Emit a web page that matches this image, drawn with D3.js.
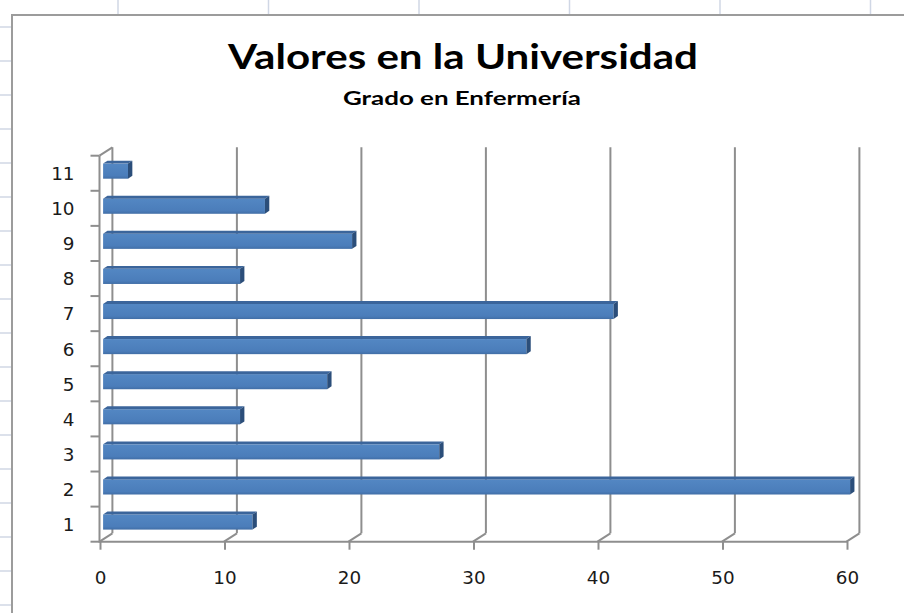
<!DOCTYPE html>
<html>
<head>
<meta charset="utf-8">
<script src="https://cdn.jsdelivr.net/npm/d3@7"></script>
<style>
  body { margin: 0; background: #ffffff; overflow: hidden; }
</style>
</head>
<body>
<div id="chart"></div>
<script>
// DATA
var categories = ["1", "2", "3", "4", "5", "6", "7", "8", "9", "10", "11"];
var values = [12, 60, 27, 11, 18, 34, 41, 11, 20, 13, 2];
var xTicks = [0, 10, 20, 30, 40, 50, 60];
var chartTitle = "Valores en la Universidad";
var chartSubtitle = "Grado en Enfermería";

// LAYOUT
var width = 904;
var height = 613;
var depth = { x: 12.4, y: -8.4 }; // oblique offset of the back wall
var barDepth = [0.25, 0.6]; // bars sit between these depth fractions

var svg = d3
  .select("#chart")
  .append("svg")
  .attr("width", width)
  .attr("height", height);

var x = d3.scaleLinear().domain([0, 60]).range([100, 847]);
var y = d3
  .scaleBand()
  .domain(categories.slice().reverse())
  .range([155.7, 541.7])
  .paddingInner(0.57)
  .paddingOuter(0.285);
var step = y.step();
var yTop = y.range()[0];
var yBottom = y.range()[1];

// stretch text horizontally to a wanted width (the picture is a bit wide)
function stretchTo(sel, w) {
  sel.attr("textLength", w).attr("lengthAdjust", "spacingAndGlyphs");
}
function stretchBy(sel, f) {
  sel.each(function () {
    var len = this.getComputedTextLength();
    d3.select(this)
      .attr("textLength", len * f)
      .attr("lengthAdjust", "spacingAndGlyphs");
  });
}

drawSheet();
drawWalls();
drawBars();
drawAxes();
drawTitles();

// spreadsheet cells behind the chart
function drawSheet() {
  svg
    .append("rect")
    .attr("width", width)
    .attr("height", height)
    .attr("fill", "#ffffff");

  svg
    .selectAll("line.col")
    .data(d3.range(6))
    .enter()
    .append("line")
    .attr("class", "col")
    .attr("x1", (d) => 118 + d * 150.5)
    .attr("x2", (d) => 118 + d * 150.5)
    .attr("y1", 0)
    .attr("y2", 15)
    .attr("stroke", "#d0d7e5")
    .attr("stroke-width", 1.5);

  svg
    .selectAll("line.row")
    .data(d3.range(18))
    .enter()
    .append("line")
    .attr("class", "row")
    .attr("x1", 0)
    .attr("x2", 12)
    .attr("y1", (d) => 27 + d * 34)
    .attr("y2", (d) => 27 + d * 34)
    .attr("stroke", "#d0d7e5")
    .attr("stroke-width", 1.5);

  // chart area
  svg
    .append("rect")
    .attr("x", 12)
    .attr("y", 15)
    .attr("width", width)
    .attr("height", height)
    .attr("fill", "#ffffff")
    .attr("stroke", "#9c9c9c")
    .attr("stroke-width", 2);
}

function drawWalls() {
  var g = svg.append("g").attr("class", "walls");

  // back wall gridlines
  g.selectAll("line.grid")
    .data(xTicks)
    .enter()
    .append("line")
    .attr("class", "grid")
    .attr("x1", (d) => x(d) + depth.x)
    .attr("x2", (d) => x(d) + depth.x)
    .attr("y1", yTop + depth.y)
    .attr("y2", yBottom + depth.y)
    .attr("stroke", "#8e8e8e")
    .attr("stroke-width", 2);

  // floor diagonals
  g.selectAll("line.floor")
    .data(xTicks)
    .enter()
    .append("line")
    .attr("class", "floor")
    .attr("x1", (d) => x(d) - 0.5)
    .attr("x2", (d) => x(d) + depth.x)
    .attr("y1", yBottom)
    .attr("y2", yBottom + depth.y)
    .attr("stroke", "#8e8e8e")
    .attr("stroke-width", 2);

  // top edge of the side wall
  g.append("line")
    .attr("x1", x(0) - 0.5)
    .attr("x2", x(0) + depth.x)
    .attr("y1", yTop)
    .attr("y2", yTop + depth.y)
    .attr("stroke", "#8e8e8e")
    .attr("stroke-width", 2);
}

function drawBars() {
  var data = categories.map((c, i) => ({ cat: c, value: values[i] }));
  var t0 = barDepth[0];
  var t1 = barDepth[1];
  var bw = y.bandwidth();

  var grad = svg
    .append("defs")
    .append("linearGradient")
    .attr("id", "barFront")
    .attr("x1", 0)
    .attr("y1", 0)
    .attr("x2", 0)
    .attr("y2", 1);
  grad.append("stop").attr("offset", "0%").attr("stop-color", "#5387c3");
  grad.append("stop").attr("offset", "80%").attr("stop-color", "#4b7dba");
  grad.append("stop").attr("offset", "100%").attr("stop-color", "#416ea6");

  var bars = svg
    .append("g")
    .attr("class", "bars")
    .selectAll("g")
    .data(data)
    .enter()
    .append("g");

  // front face
  bars
    .append("rect")
    .attr("x", x(0) + depth.x * t0)
    .attr("y", (d) => y(d.cat) + depth.y * t0)
    .attr("width", (d) => x(d.value) - x(0))
    .attr("height", bw)
    .attr("fill", "url(#barFront)");

  // top face
  bars
    .append("path")
    .attr("d", function (d) {
      var ty = y(d.cat);
      return (
        "M" + (x(0) + depth.x * t0) + "," + (ty + depth.y * t0) +
        "L" + (x(d.value) + depth.x * t0) + "," + (ty + depth.y * t0) +
        "L" + (x(d.value) + depth.x * t1) + "," + (ty + depth.y * t1) +
        "L" + (x(0) + depth.x * t1) + "," + (ty + depth.y * t1) + "Z"
      );
    })
    .attr("fill", "#3b659b");

  // end face
  bars
    .append("path")
    .attr("d", function (d) {
      var ty = y(d.cat);
      var ex = x(d.value);
      return (
        "M" + (ex + depth.x * t0) + "," + (ty + depth.y * t0) +
        "L" + (ex + depth.x * t1) + "," + (ty + depth.y * t1) +
        "L" + (ex + depth.x * t1) + "," + (ty + bw + depth.y * t1) +
        "L" + (ex + depth.x * t0) + "," + (ty + bw + depth.y * t0) + "Z"
      );
    })
    .attr("fill", "#2b4e7a");
}

function drawAxes() {
  var axisColor = "#8e8e8e";

  // x axis along the front of the floor
  var xAxis = d3
    .axisBottom(x)
    .tickValues(xTicks)
    .tickSize(8)
    .tickPadding(22)
    .tickSizeOuter(0);

  var gx = svg
    .append("g")
    .attr("transform", "translate(0," + yBottom + ")")
    .call(xAxis);
  gx.select(".domain")
    .attr("stroke", axisColor)
    .attr("stroke-width", 2)
    .attr("d", "M" + (x(0) - 0.5) + ",0H" + x(60));
  gx.selectAll(".tick line").attr("stroke", axisColor).attr("stroke-width", 2);
  gx.selectAll(".tick text")
    .attr("fill", "#1a1a1a")
    .style("font-family", "'DejaVu Sans', sans-serif")
    .style("font-size", "17px");
  stretchBy(gx.selectAll(".tick text"), 1.08);

  // y axis at the front left
  var yAxis = d3
    .axisLeft(y)
    .tickSize(0)
    .tickPadding(25)
    .tickSizeOuter(0);

  var gy = svg
    .append("g")
    .attr("transform", "translate(" + (x(0) - 0.5) + ",0)")
    .call(yAxis);
  gy.select(".domain")
    .attr("stroke", axisColor)
    .attr("stroke-width", 2)
    .attr("d", "M0," + yTop + "V" + (yBottom + 1));
  gy.selectAll(".tick text")
    .attr("fill", "#1a1a1a")
    .attr("dy", "0.4em")
    .style("font-family", "'DejaVu Sans', sans-serif")
    .style("font-size", "17px");
  stretchBy(gy.selectAll(".tick text"), 1.08);

  // category boundary ticks
  gy.selectAll("line.bound")
    .data(d3.range(categories.length + 1))
    .enter()
    .append("line")
    .attr("class", "bound")
    .attr("x1", -9)
    .attr("x2", 0)
    .attr("y1", (d) => yTop + d * step)
    .attr("y2", (d) => yTop + d * step)
    .attr("stroke", axisColor)
    .attr("stroke-width", 2);
}

function drawTitles() {
  svg
    .append("text")
    .attr("x", 463)
    .attr("y", 69)
    .attr("text-anchor", "middle")
    .style("font-family", "Lato, 'Open Sans', sans-serif")
    .style("font-weight", "bold")
    .style("font-size", "34px")
    .attr("fill", "#000000")
    .text(chartTitle)
    .call(stretchTo, 470);

  svg
    .append("text")
    .attr("x", 462)
    .attr("y", 105)
    .attr("text-anchor", "middle")
    .style("font-family", "Lato, 'Open Sans', sans-serif")
    .style("font-weight", "bold")
    .style("font-size", "19px")
    .attr("fill", "#000000")
    .text(chartSubtitle)
    .call(stretchTo, 238);
}
</script>
</body>
</html>
